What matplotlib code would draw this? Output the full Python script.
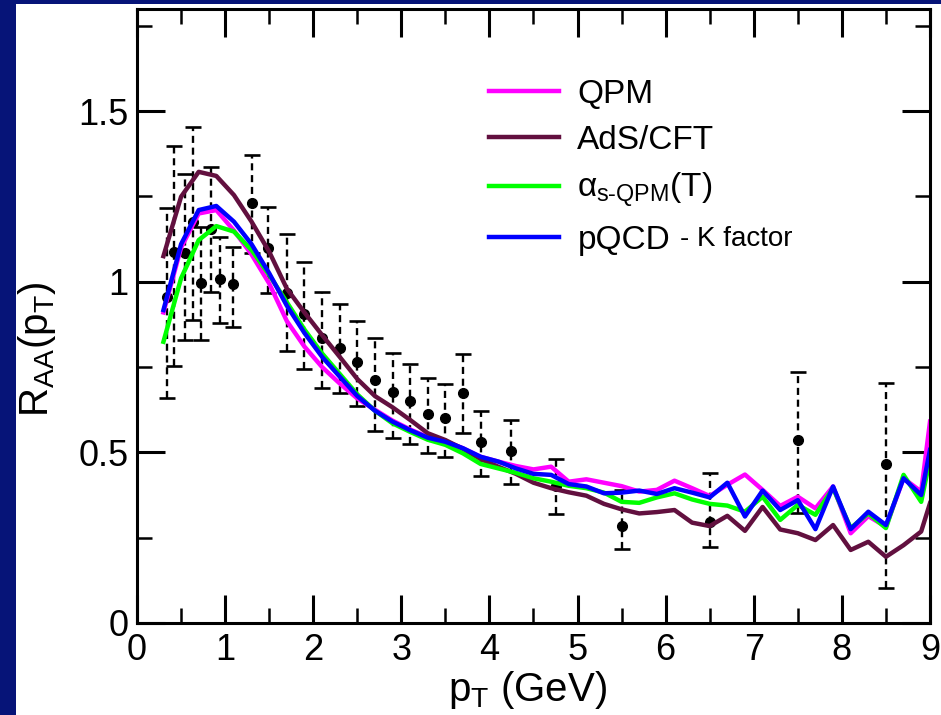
import numpy as np
import matplotlib.pyplot as plt
from matplotlib.patches import Rectangle
from matplotlib.ticker import MultipleLocator

plt.rcParams['font.family'] = ['Liberation Sans', 'DejaVu Sans']
plt.rcParams['mathtext.fontset'] = 'custom'
plt.rcParams['mathtext.rm'] = 'Liberation Sans'
plt.rcParams['mathtext.it'] = 'Liberation Sans'

# model curves, p_T grid in GeV
pt_model = [0.3, 0.5, 0.7, 0.9, 1.1, 1.3, 1.5, 1.7, 1.9, 2.1, 2.3, 2.5, 2.7, 2.9, 3.1,
            3.3, 3.5, 3.7, 3.9, 4.1, 4.3, 4.5, 4.7, 4.9, 5.1, 5.3, 5.5, 5.7, 5.9, 6.1,
            6.3, 6.5, 6.7, 6.9, 7.1, 7.3, 7.5, 7.7, 7.9, 8.1, 8.3, 8.5, 8.7, 8.9, 9.0]

raa_qpm = [0.91, 1.10, 1.20, 1.21, 1.15, 1.08, 0.995, 0.885, 0.81, 0.75, 0.702, 0.658, 0.625, 0.593, 0.567,
           0.545, 0.533, 0.512, 0.487, 0.473, 0.46, 0.45, 0.458, 0.414, 0.421, 0.411, 0.401, 0.385, 0.39, 0.417,
           0.395, 0.372, 0.405, 0.435, 0.39, 0.343, 0.37, 0.336, 0.40, 0.263, 0.313, 0.282, 0.424, 0.385, 0.59]

raa_ads = [1.075, 1.249, 1.322, 1.31, 1.254, 1.176, 1.088, 0.98, 0.91, 0.844, 0.78, 0.715, 0.665, 0.632, 0.595,
           0.556, 0.536, 0.51, 0.48, 0.458, 0.437, 0.411, 0.395, 0.383, 0.373, 0.349, 0.333, 0.321, 0.325, 0.331,
           0.294, 0.284, 0.314, 0.270, 0.34, 0.274, 0.263, 0.243, 0.287, 0.214, 0.238, 0.194, 0.228, 0.268, 0.351]

raa_alpha = [0.824, 1.01, 1.122, 1.163, 1.147, 1.093, 1.02, 0.94, 0.86, 0.79, 0.73, 0.67, 0.622, 0.585, 0.56,
             0.537, 0.522, 0.497, 0.466, 0.453, 0.44, 0.424, 0.414, 0.402, 0.395, 0.382, 0.355, 0.352, 0.368, 0.38,
             0.362, 0.349, 0.344, 0.326, 0.37, 0.302, 0.346, 0.317, 0.395, 0.278, 0.321, 0.278, 0.434, 0.355, 0.48]

raa_pqcd = [0.917, 1.11, 1.21, 1.222, 1.176, 1.11, 1.025, 0.93, 0.85, 0.78, 0.722, 0.665, 0.622, 0.59, 0.565,
            0.543, 0.531, 0.512, 0.487, 0.473, 0.453, 0.437, 0.434, 0.407, 0.40, 0.38, 0.382, 0.388, 0.378, 0.395,
            0.382, 0.368, 0.411, 0.312, 0.388, 0.331, 0.36, 0.275, 0.40, 0.275, 0.326, 0.287, 0.424, 0.375, 0.507]

# data points
pt_data = [0.34, 0.42, 0.545, 0.63, 0.73, 0.84, 0.94, 1.09, 1.30, 1.49, 1.70, 1.90, 2.10, 2.30,
           2.50, 2.70, 2.90, 3.10, 3.30, 3.50, 3.70, 3.90, 4.25, 4.75, 5.50, 6.50, 7.50, 8.50]
raa_data = [0.954, 1.088, 1.083, 1.176, 0.995, 1.155, 1.007, 0.992, 1.232, 1.098, 0.966, 0.905, 0.834, 0.805,
            0.764, 0.712, 0.676, 0.651, 0.612, 0.600, 0.673, 0.531, 0.504, 0.40, 0.285, 0.297, 0.536, 0.466]
raa_hi = [1.217, 1.398, 1.317, 1.452, 1.161, 1.337, 1.132, 1.103, 1.371, 1.218, 1.139, 1.057, 0.971, 0.935,
          0.886, 0.834, 0.792, 0.758, 0.717, 0.699, 0.788, 0.622, 0.595, 0.48, 0.39, 0.439, 0.734, 0.702]
raa_lo = [0.658, 0.753, 0.829, 0.888, 0.829, 0.971, 0.878, 0.868, 1.085, 0.966, 0.797, 0.744, 0.688, 0.673,
          0.636, 0.563, 0.541, 0.524, 0.497, 0.487, 0.556, 0.432, 0.406, 0.318, 0.216, 0.222, 0.321, 0.102]

fig = plt.figure(figsize=(9.41, 7.15), dpi=100)
fig.patch.set_facecolor('#061478')
fig.patches.append(Rectangle((16 / 941, 0), 925 / 941, 711 / 715, transform=fig.transFigure,
                             facecolor='white', edgecolor='none', zorder=-5))

ax = fig.add_axes([0.1456, 0.1287, 0.8427, 0.8591])

ax.plot(pt_model, raa_qpm, color='#ff00ff', lw=3.2, label='QPM')
ax.plot(pt_model, raa_ads, color='#62103f', lw=3.2, label='AdS/CFT')
ax.plot(pt_model, raa_alpha, color='#00ff00', lw=3.2,
        label='$\\alpha_{\\mathregular{s\u2010QPM}}$(T)')
ax.plot(pt_model, raa_pqcd, color='#0000ff', lw=3.2, label='pQCD')

d = np.array(raa_data)
yerr = [d - np.array(raa_lo), np.array(raa_hi) - d]
eb = ax.errorbar(pt_data, raa_data, yerr=yerr, fmt='o', color='black', ms=7,
                 elinewidth=1.7, capsize=6, capthick=1.9, zorder=1)
eb[2][0].set_linestyle((0, (3, 2)))

ax.set_xlim(0, 9)
ax.set_ylim(0, 1.8)
ax.xaxis.set_major_locator(MultipleLocator(1))
ax.xaxis.set_minor_locator(MultipleLocator(0.5))
ax.yaxis.set_major_locator(MultipleLocator(0.5))
ax.yaxis.set_minor_locator(MultipleLocator(0.25))
ax.set_yticks([0, 0.5, 1, 1.5])
ax.set_yticklabels(['0', '0.5', '1', '1.5'])
ax.tick_params(which='both', direction='in', top=True, right=True, labelsize=26)
ax.tick_params(which='major', length=20, width=2.2, pad=6)
ax.tick_params(which='minor', length=11, width=1.8)
ax.tick_params(axis='x', pad=7)
for s in ax.spines.values():
    s.set_linewidth(2.2)

ax.set_xlabel(r'p$_\mathregular{T}$ (GeV)', fontsize=29)
ax.set_ylabel(r'R$_\mathregular{AA}$(p$_\mathregular{T}$)', fontsize=29)
ax.xaxis.set_label_coords(0.493, -0.075)
ax.yaxis.set_label_coords(-0.10, 0.445)

leg = ax.legend(loc='upper left', bbox_to_anchor=(0.444, 0.886), frameon=False, fontsize=24,
                handlelength=2.1, handletextpad=0.55, labelspacing=0.45, borderpad=0,
                borderaxespad=0)
for h in leg.get_lines():
    h.set_linewidth(3.2)
kf = ax.annotate('- K factor', xy=(1, 0), xycoords=leg.get_texts()[3], xytext=(7, 3),
                 textcoords='offset points', fontsize=20, va='bottom', ha='left')
kf.set_zorder(10)

fig.savefig('out.png', dpi=100, facecolor=fig.get_facecolor())
